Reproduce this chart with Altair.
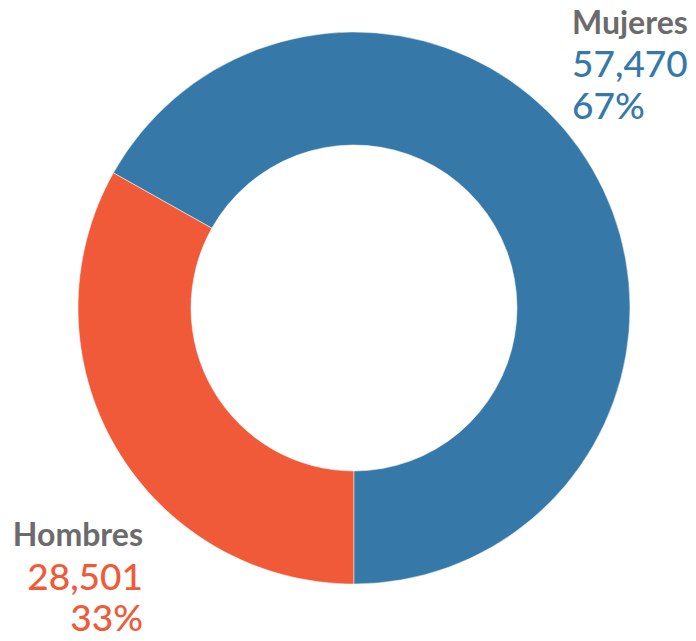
import math
import altair as alt
import pandas as pd

categories = ["Hombres", "Mujeres"]
values = [28501, 57470]
colors = ["#f05a38", "#3679a8"]
order = [0, 1]

df = pd.DataFrame({"cat": categories, "value": values, "ord": order})

W, H = 680, 625
CX, CY = 346, 300
R_OUT, R_IN = 276, 163
GRAY = "#6b6b6b"
FONT = "Lato"

base = alt.Chart(df).transform_joinaggregate(total="sum(value)").transform_calculate(
    pct="datum.value / datum.total"
)

donut = base.mark_arc(outerRadius=R_OUT, innerRadius=R_IN, stroke="white", strokeWidth=0.5).encode(
    theta=alt.Theta("value:Q", stack=True, scale=alt.Scale(range=[math.pi, 3 * math.pi])),
    order=alt.Order("ord:Q"),
    color=alt.Color("cat:N", scale=alt.Scale(domain=categories, range=colors), legend=None),
    x=alt.value(CX),
    y=alt.value(CY),
)

layers = [donut]
label_pos = {
    "Mujeres": (564, "left", [26, 69, 111]),
    "Hombres": (135, "right", [538, 582, 623]),
}
for cat, col in zip(categories, colors):
    xp, al, ys = label_pos[cat]
    sub = base.transform_filter(alt.datum.cat == cat)
    layers.append(
        sub.mark_text(align=al, baseline="alphabetic", font=FONT, fontSize=32, fontWeight="bold", color=GRAY)
        .encode(x=alt.value(xp), y=alt.value(ys[0]), text="cat:N")
    )
    layers.append(
        sub.mark_text(align=al, baseline="alphabetic", font=FONT, fontSize=37, fontWeight=500, color=col)
        .encode(x=alt.value(xp), y=alt.value(ys[1]), text=alt.Text("value:Q", format=","))
    )
    layers.append(
        sub.mark_text(align=al, baseline="alphabetic", font=FONT, fontSize=37, fontWeight=500, color=col)
        .encode(x=alt.value(xp), y=alt.value(ys[2]), text=alt.Text("pct:Q", format=".0%"))
    )

chart = (
    alt.layer(*layers)
    .properties(width=W, height=H, padding=0, autosize=alt.AutoSizeParams(type="none"))
    .configure_view(stroke=None)
)

chart.save("out.html", embed_options={"renderer": "svg", "actions": False})
